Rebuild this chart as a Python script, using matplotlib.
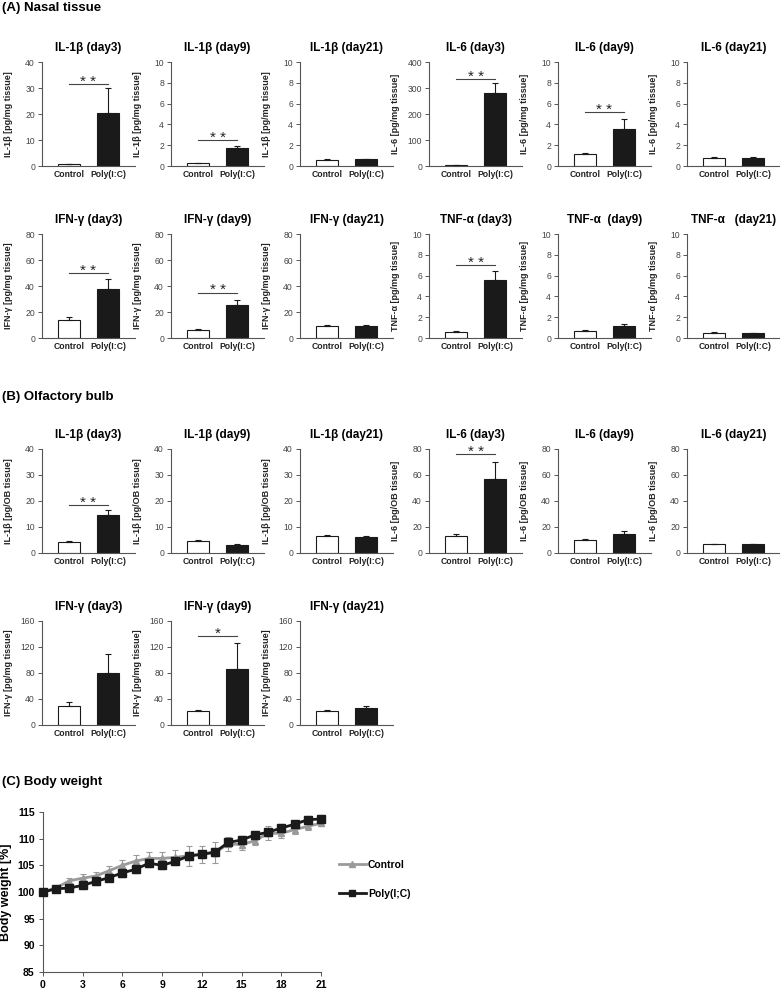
import matplotlib
matplotlib.use("Agg")
import matplotlib.pyplot as plt
from matplotlib.lines import Line2D
import numpy as np

plt.rcParams['font.family'] = ['Liberation Sans', 'DejaVu Sans']

groups = ["Control", "Poly(I:C)"]

# ---------------- Panel A: nasal tissue ----------------
titles_A = ["IL-1β (day3)", "IL-1β (day9)", "IL-1β (day21)",
            "IL-6 (day3)", "IL-6 (day9)", "IL-6 (day21)",
            "IFN-γ (day3)", "IFN-γ (day9)", "IFN-γ (day21)",
            "TNF-α (day3)", "TNF-α  (day9)", "TNF-α   (day21)"]
ylabels_A = ["IL-1β [pg/mg tissue]"] * 3 + ["IL-6 [pg/mg tissue]"] * 3 + \
            ["IFN-γ [pg/mg tissue]"] * 3 + ["TNF-α [pg/mg tissue]"] * 3
ctrl_A = [0.7, 0.3, 0.6, 2.0, 1.2, 0.8, 14.0, 6.5, 9.0, 0.6, 0.7, 0.5]
ctrl_err_A = [0.1, 0.03, 0.05, 0.5, 0.03, 0.08, 2.0, 0.8, 0.8, 0.08, 0.03, 0.03]
poly_A = [20.5, 1.7, 0.65, 280.0, 3.6, 0.75, 38.0, 25.5, 9.5, 5.6, 1.2, 0.45]
poly_err_A = [9.5, 0.2, 0.05, 38.0, 0.9, 0.1, 7.5, 4.0, 0.8, 0.8, 0.1, 0.03]
ymax_A = [40, 10, 10, 400, 10, 10, 80, 80, 80, 10, 10, 10]
sig_A = ["* *", "* *", "", "* *", "* *", "", "* *", "* *", "", "* *", "", ""]
sig_y_A = [31.5, 2.5, 0, 335, 5.2, 0, 50, 35, 0, 7.0, 0, 0]

# ---------------- Panel B: olfactory bulb ----------------
titles_B = ["IL-1β (day3)", "IL-1β (day9)", "IL-1β (day21)",
            "IL-6 (day3)", "IL-6 (day9)", "IL-6 (day21)",
            "IFN-γ (day3)", "IFN-γ (day9)", "IFN-γ (day21)"]
ylabels_B = ["IL-1β [pg/OB tissue]"] * 3 + ["IL-6 [pg/OB tissue]"] * 3 + \
            ["IFN-γ [pg/mg tissue]"] * 3
ctrl_B = [4.2, 4.5, 6.5, 13.0, 10.0, 7.0, 30.0, 21.0, 21.0]
ctrl_err_B = [0.5, 0.6, 0.3, 2.0, 0.8, 0.2, 6.0, 2.0, 2.0]
poly_B = [14.5, 3.2, 6.3, 57.0, 15.0, 7.0, 80.0, 86.0, 26.0]
poly_err_B = [2.2, 0.15, 0.3, 13.0, 2.0, 0.2, 29.0, 40.0, 4.0]
ymax_B = [40, 40, 40, 80, 80, 80, 160, 160, 160]
sig_B = ["* *", "", "", "* *", "", "", "", "*", ""]
sig_y_B = [18.5, 0, 0, 76, 0, 0, 0, 137, 0]

# ---------------- Panel C: body weight ----------------
days = list(range(22))
bw_ctrl = [100.0, 100.8, 102.1, 102.6, 103.0, 104.0, 105.0, 105.8, 106.3, 106.3, 106.5,
           106.8, 107.1, 107.4, 109.0, 108.9, 109.6, 111.0, 111.0, 111.7, 112.3, 112.9]
bw_ctrl_err = [0.3, 0.4, 0.6, 0.7, 0.8, 0.9, 1.0, 1.2, 1.2, 1.2, 1.3,
               1.9, 1.6, 1.9, 1.4, 1.0, 0.8, 1.3, 0.8, 0.8, 0.6, 0.6]
bw_poly = [100.0, 100.6, 100.75, 101.25, 102.0, 102.7, 103.6, 104.25, 105.4, 105.0, 105.75,
           106.75, 107.06, 107.5, 109.3, 109.75, 110.7, 111.2, 112.0, 112.7, 113.55, 113.7]
bw_poly_err = [0.5, 0.5, 0.6, 0.7, 0.7, 0.7, 0.7, 0.7, 0.7, 0.7, 0.7,
               0.7, 0.7, 0.7, 0.7, 0.7, 0.7, 0.7, 0.7, 0.7, 0.7, 0.7]
bw_labels = ["Control", "Poly(I;C)"]

W, H = 780, 990
fig = plt.figure(figsize=(W / 100, H / 100), dpi=100)

col_left = [42, 171, 300, 429, 558, 687]
ax_w = 93
ax_h = 104
row_bottom = {"A1": 166, "A2": 338, "B1": 553, "B2": 725}

spine_c = "#555555"
tick_c = "#444444"


def px_axes(left, bottom, width, height):
    return fig.add_axes([left / W, (H - bottom) / H, width / W, height / H])


def bar_panel(ax, title, ylabel, c, ce, p, pe, ymax, sig, sig_y):
    xs = [0, 1]
    ax.bar(xs, [c, p], width=0.56, color=["white", "#1a1a1a"],
           edgecolor="#1a1a1a", linewidth=0.8, zorder=2)
    ax.errorbar(xs, [c, p], yerr=[[0, 0], [ce, pe]], fmt="none",
                ecolor="#1a1a1a", elinewidth=0.8, capsize=2.5, capthick=0.8, zorder=3)
    ax.set_xlim(-0.69, 1.69)
    ax.set_ylim(0, ymax)
    ax.set_yticks(np.linspace(0, ymax, 5 if ymax in (40, 80, 160, 400) else 6))
    ax.set_xticks(xs)
    ax.set_xticklabels(groups, fontsize=6.2, fontweight="bold", color="#222222")
    ax.tick_params(axis="x", length=0, pad=3)
    ax.tick_params(axis="y", length=3, width=0.7, color=spine_c, labelsize=6.2,
                   labelcolor=tick_c, pad=2)
    for s in ("top", "right"):
        ax.spines[s].set_visible(False)
    for s in ("left", "bottom"):
        ax.spines[s].set_color(spine_c)
        ax.spines[s].set_linewidth(0.8)
    ax.set_title(title, fontsize=8.5, fontweight="bold", pad=8)
    ax.set_ylabel(ylabel, fontsize=6.5, fontweight="bold", color="#222222")
    ax.yaxis.set_label_coords(-0.31, 0.5)
    if sig:
        ax.plot([0, 1], [sig_y, sig_y], color="#444444", lw=0.8, zorder=3)
        ax.annotate(sig, xy=(0.5, sig_y), xytext=(0, -1.2), textcoords="offset points",
                    ha="center", va="baseline", fontsize=11, color="#222222")


# Section titles
fig.text(0.003, 1 - 8 / H, "(A) Nasal tissue", fontsize=9.5, fontweight="bold", va="center")
fig.text(0.003, 1 - 397 / H, "(B) Olfactory bulb", fontsize=9.5, fontweight="bold", va="center")
fig.text(0.003, 1 - 782 / H, "(C) Body weight", fontsize=9.5, fontweight="bold", va="center")

for i in range(12):
    row = "A1" if i < 6 else "A2"
    ax = px_axes(col_left[i % 6], row_bottom[row], ax_w, ax_h)
    bar_panel(ax, titles_A[i], ylabels_A[i], ctrl_A[i], ctrl_err_A[i], poly_A[i],
              poly_err_A[i], ymax_A[i], sig_A[i], sig_y_A[i])

for i in range(9):
    row = "B1" if i < 6 else "B2"
    ax = px_axes(col_left[i % 6], row_bottom[row], ax_w, ax_h)
    bar_panel(ax, titles_B[i], ylabels_B[i], ctrl_B[i], ctrl_err_B[i], poly_B[i],
              poly_err_B[i], ymax_B[i], sig_B[i], sig_y_B[i])

# Body weight panel
axc = px_axes(43, 972, 278, 160)
axc.errorbar(days, bw_ctrl, yerr=bw_ctrl_err, color="#9a9a9a", marker="^", markersize=4.5,
             lw=2, elinewidth=0.8, capsize=2.5, capthick=0.8, zorder=2)
axc.errorbar(days, bw_poly, yerr=bw_poly_err, color="#1a1a1a", marker="s", markersize=6,
             lw=2, elinewidth=0.8, capsize=2.5, capthick=0.8, zorder=3)
axc.set_xlim(0, 21)
axc.set_ylim(85, 115)
axc.set_xticks(range(0, 22, 3))
axc.set_yticks(range(85, 116, 5))
for s in ("top", "right"):
    axc.spines[s].set_visible(False)
for s in ("left", "bottom"):
    axc.spines[s].set_color(spine_c)
    axc.spines[s].set_linewidth(0.8)
axc.tick_params(length=3, width=0.7, color=spine_c, labelsize=7.5, pad=3)
for lab in axc.get_xticklabels() + axc.get_yticklabels():
    lab.set_fontweight("bold")
axc.set_ylabel("Body weight [%]", fontsize=9, fontweight="bold")
axc.yaxis.set_label_coords(-0.11, 0.5)
for line in axc.lines:
    line.set_clip_on(False)
handles = [Line2D([], [], color="#9a9a9a", marker="^", markersize=4, lw=2),
           Line2D([], [], color="#1a1a1a", marker="s", markersize=4.5, lw=2)]
axc.legend(handles, bw_labels, loc="upper left", bbox_to_anchor=(1.03, 0.76), frameon=False,
           labelspacing=1.8, handlelength=2.6, handletextpad=0.2,
           prop={"size": 7.5, "weight": "bold"})

fig.savefig("out.png", dpi=100)
